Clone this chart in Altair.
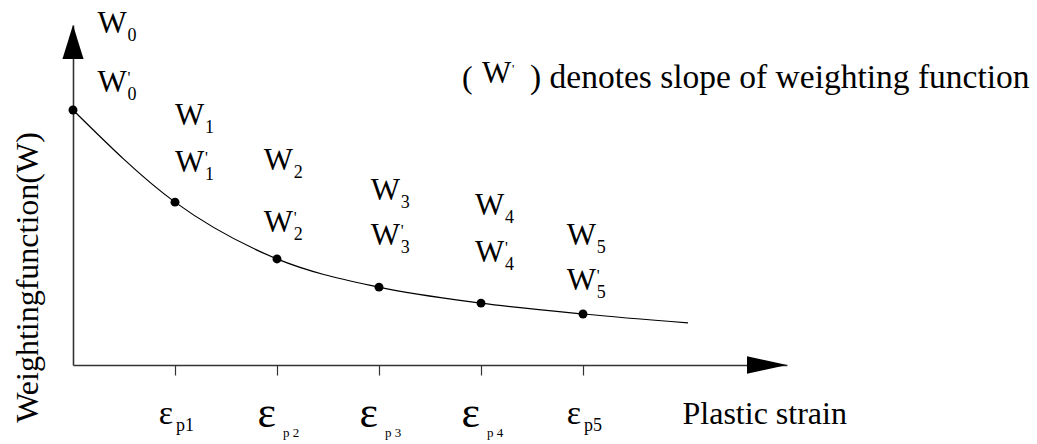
import altair as alt
import pandas as pd

SERIF = "Times New Roman"

# Weighting function sampled along the plastic-strain axis (knots 0..5 plus the tail end)
curve_strain = [0, 1, 2, 3, 4, 5, 6.03]
curve_weight = [7.50, 4.79, 3.12, 2.29, 1.82, 1.50, 1.24]

# Knots drawn as dots
knot_strain = [0, 1, 2, 3, 4, 5]
knot_weight = [7.50, 4.79, 3.12, 2.29, 1.82, 1.50]

# Knot annotations: W_i (value) above W'_i (slope), anchored at the left of the "W"
w_index = ["0", "1", "2", "3", "4", "5"]
w_label_strain = [0.24, 1.0, 1.87, 2.92, 3.94, 4.84]
w_value_weight = [9.76, 7.06, 5.74, 4.85, 4.41, 3.53]
w_slope_weight = [8.03, 5.68, 3.91, 3.53, 3.03, 2.21]

# Strain axis ticks and their subscripts
eps_ticks = [1, 2, 3, 4, 5]
eps_sub = ["p1", "p 2", "p 3", "p 4", "p5"]

# Axis extents (arrow tips)
x_max = 7
y_max = 10

xs = alt.Scale(domain=[0, x_max], nice=False, zero=False)
ys = alt.Scale(domain=[0, y_max], nice=False, zero=False)

x_axis = alt.Axis(
    values=eps_ticks, labels=False, grid=False, ticks=True, tickSize=10,
    tickColor="#333", tickWidth=1.2, domainColor="#333", domainWidth=1.6,
    title="Plastic strain", titleFont=SERIF, titleFontSize=32,
    titleFontWeight="normal", titleColor="black", titleAlign="left",
    titleBaseline="alphabetic", titleAnchor="start", titleX=609, titleY=58,
)
y_axis = alt.Axis(
    labels=False, ticks=False, grid=False, domainColor="#333", domainWidth=1.6,
    title="Weightingfunction(W)", titleFont=SERIF, titleFontSize=32,
    titleFontWeight="normal", titleColor="black", titleAngle=270,
    titleAlign="center", titleBaseline="alphabetic", titleX=-36, titleY=252,
)
x_enc = alt.X("strain:Q", scale=xs, axis=x_axis)
y_enc = alt.Y("weight:Q", scale=ys, axis=y_axis)

curve_df = pd.DataFrame({"strain": curve_strain, "weight": curve_weight})
knot_df = pd.DataFrame({"strain": knot_strain, "weight": knot_weight})
wval_df = pd.DataFrame({"strain": w_label_strain, "weight": w_value_weight, "idx": w_index})
wslp_df = pd.DataFrame({"strain": w_label_strain, "weight": w_slope_weight, "idx": w_index})
eps_df = pd.DataFrame({"strain": eps_ticks, "sub": eps_sub, "n": list(range(len(eps_ticks)))})

curve = alt.Chart(curve_df).mark_line(
    color="black", strokeWidth=1.2, interpolate="monotone"
).encode(x=x_enc, y=y_enc)

dots = alt.Chart(knot_df).mark_point(
    filled=True, color="black", opacity=1, size=80
).encode(x=x_enc, y=y_enc)

# Arrowheads at the ends of both axes
y_arrow = alt.Chart(pd.DataFrame({"strain": [0], "weight": [y_max]})).mark_point(
    shape="M0,0 L0.62,2 L-0.62,2 Z", size=1156, filled=True, color="black", opacity=1
).encode(x=x_enc, y=y_enc)
x_arrow = alt.Chart(pd.DataFrame({"strain": [x_max], "weight": [0]})).mark_point(
    shape="M0,0 L-2,-0.44 L-2,0.44 Z", size=1600, filled=True, color="black", opacity=1
).encode(x=x_enc, y=y_enc)


def w_layers(df):
    w = alt.Chart(df).mark_text(
        text="W", font=SERIF, fontSize=31, align="left", baseline="alphabetic", color="black"
    ).encode(x=x_enc, y=y_enc)
    sub = alt.Chart(df).mark_text(
        font=SERIF, fontSize=18, align="left", baseline="alphabetic", color="black", dx=30, dy=8
    ).encode(x=x_enc, y=y_enc, text="idx:N")
    return [w, sub]


prime = alt.Chart(wslp_df).mark_text(
    text="'", font=SERIF, fontSize=16, align="left", baseline="alphabetic", color="black", dx=30, dy=-9
).encode(x=x_enc, y=y_enc)

# Epsilon tick labels: two typographic styles (p1/p5 vs p2..p4)
eps_a = eps_df[eps_df["n"].isin([0, 4])]
eps_b = eps_df[eps_df["n"].isin([1, 2, 3])]

eps_a_main = alt.Chart(eps_a).mark_text(
    text="ε", font=SERIF, fontSize=34, align="right", baseline="alphabetic", color="black", dx=-2
).encode(x=x_enc, y=alt.value(399))
eps_a_sub = alt.Chart(eps_a).mark_text(
    font=SERIF, fontSize=18, align="left", baseline="alphabetic", color="black", dx=1
).encode(x=x_enc, y=alt.value(406), text="sub:N")
eps_b_main = alt.Chart(eps_b).mark_text(
    text="ε", font=SERIF, fontSize=44, align="right", baseline="alphabetic", color="black", dx=-1
).encode(x=x_enc, y=alt.value(402))
eps_b_sub = alt.Chart(eps_b).mark_text(
    font=SERIF, fontSize=13, align="left", baseline="alphabetic", color="black", dx=6
).encode(x=x_enc, y=alt.value(412), text="sub:N")

# Note on the right: (W') denotes slope of weighting function
note_df = pd.DataFrame({"k": [0]})
note_open = alt.Chart(note_df).mark_text(
    text="(", font=SERIF, fontSize=32, align="left", baseline="alphabetic", color="black"
).encode(x=alt.value(389), y=alt.value(63))
note_w = alt.Chart(note_df).mark_text(
    text="W", font=SERIF, fontSize=31, align="left", baseline="alphabetic", color="black"
).encode(x=alt.value(409), y=alt.value(58))
note_prime = alt.Chart(note_df).mark_text(
    text="'", font=SERIF, fontSize=13, align="left", baseline="alphabetic", color="black"
).encode(x=alt.value(439), y=alt.value(48))
note_rest = alt.Chart(note_df).mark_text(
    text=") denotes slope of weighting function", font=SERIF, fontSize=33.5,
    align="left", baseline="alphabetic", color="black"
).encode(x=alt.value(457), y=alt.value(63))

layers = [curve, dots, y_arrow, x_arrow]
layers += w_layers(wval_df) + w_layers(wslp_df) + [prime]
layers += [eps_a_main, eps_a_sub, eps_b_main, eps_b_sub]
layers += [note_open, note_w, note_prime, note_rest]

chart = alt.layer(*layers).properties(
    width=714,
    height=340,
    padding={"left": 73, "top": 25, "right": 250, "bottom": 79},
    autosize=alt.AutoSizeParams(type="none"),
).configure(font=SERIF, background="white").configure_view(stroke=None)

chart.save("out.html", embed_options={"renderer": "svg", "actions": False})
